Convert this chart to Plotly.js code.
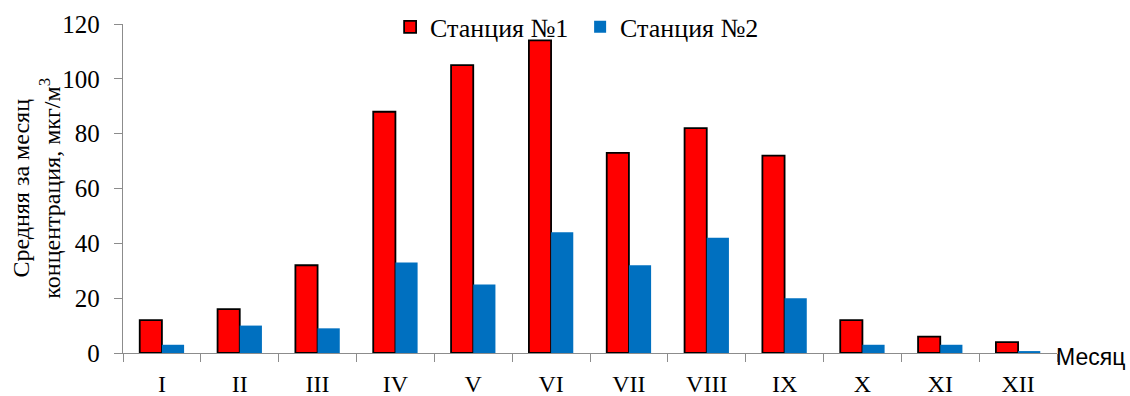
<!DOCTYPE html>
<html>
<head>
<meta charset="utf-8">
<script src="https://cdn.plot.ly/plotly-3.0.1.min.js"></script>
<style>
  html, body { margin: 0; padding: 0; background: #fff; }
  #chart { width: 1130px; height: 396px; }
</style>
</head>
<body>
<div id="chart"></div>
<script>
// Monthly mean concentration at two stations
const months = ['I', 'II', 'III', 'IV', 'V', 'VI', 'VII', 'VIII', 'IX', 'X', 'XI', 'XII'];
const station1 = [12, 16, 32, 88, 105, 114, 73, 82, 72, 12, 6, 4];
const station2 = [3, 10, 9, 33, 25, 44, 32, 42, 20, 3, 3, 0.7];
const seriesNames = ['Станция №1', 'Станция №2'];
const yTicks = [0, 20, 40, 60, 80, 100, 120];

const serif = '"Liberation Serif", "Times New Roman", serif';
const sans = '"Liberation Sans", Arial, sans-serif';

const traces = [
  {
    type: 'bar', name: seriesNames[0], x: months, y: station1,
    marker: { color: '#FF0000', line: { color: '#000000', width: 1.8 } }
  },
  {
    type: 'bar', name: seriesNames[1], x: months, y: station2,
    marker: { color: '#0070C0', line: { width: 0 } }
  }
];

const layout = {
  width: 1130, height: 396,
  margin: { l: 123, r: 73, t: 24, b: 43, autoexpand: false },
  paper_bgcolor: '#fff', plot_bgcolor: '#fff',
  font: { family: serif, color: '#000' },
  barmode: 'group', bargap: 0.43, bargroupgap: 0,
  showlegend: true,
  legend: {
    orientation: 'h', x: 0.286, xanchor: 'left', y: 0.991, yanchor: 'middle',
    bgcolor: 'rgba(0,0,0,0)', font: { family: serif, size: 26, color: '#000' },
    entrywidth: 145, entrywidthmode: 'pixels', tracegroupgap: 0
  },
  xaxis: {
    type: 'category', showline: true, linecolor: '#8c8c8c', linewidth: 1.3,
    ticks: 'outside', tickson: 'boundaries', ticklen: 8, tickcolor: '#8c8c8c',
    ticklabelstandoff: 9,
    tickfont: { family: serif, size: 24, color: '#000' },
    showgrid: false, zeroline: false, fixedrange: true
  },
  yaxis: {
    range: [0, 120], tickvals: yTicks, showline: true, linecolor: '#8c8c8c', linewidth: 1.3,
    ticks: 'outside', ticklen: 8, tickcolor: '#8c8c8c', ticklabelstandoff: 9,
    tickfont: { family: serif, size: 25, color: '#000' },
    showgrid: false, zeroline: false, fixedrange: true
  },
  annotations: [
    {
      text: 'Средняя за месяц<br>концентрация, мкг/м<sup>3</sup>',
      xref: 'paper', yref: 'paper', x: -0.093, y: 0.5, xanchor: 'center', yanchor: 'middle',
      textangle: -90, showarrow: false,
      font: { family: serif, size: 24, color: '#000' }
    },
    {
      text: 'Месяц', xref: 'paper', yref: 'paper', x: 0.997, y: -0.012,
      xanchor: 'left', yanchor: 'middle', showarrow: false,
      font: { family: sans, size: 23, color: '#000' }
    }
  ]
};

Plotly.newPlot('chart', traces, layout, { displayModeBar: false, staticPlot: true });
</script>
</body>
</html>
